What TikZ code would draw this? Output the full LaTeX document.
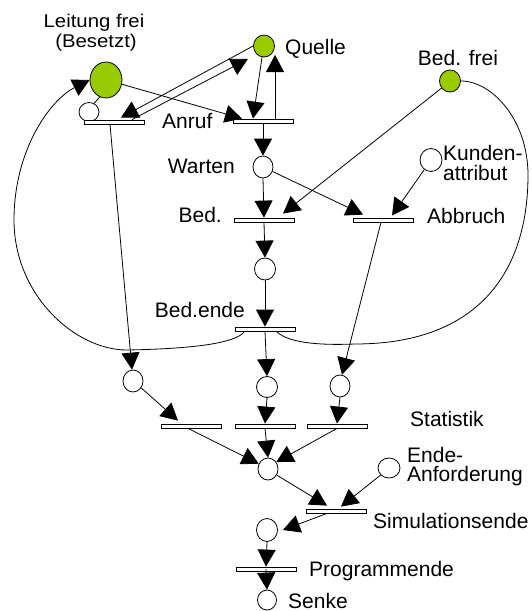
\documentclass[tikz,border=0pt]{standalone}
\usepackage{fontspec}
\setmainfont{Liberation Sans}
\usetikzlibrary{shapes.geometric,arrows.meta,calc}
\definecolor{pgreen}{RGB}{153,204,0}
\begin{document}
\begin{tikzpicture}[x=1pt,y=-1pt,
  place/.style={draw,ellipse,inner sep=0pt,line width=0.8pt,fill=white},
  gplace/.style={place,fill=pgreen},
  trans/.style={draw,rectangle,minimum width=60pt,minimum height=4pt,inner sep=0pt,line width=0.8pt,fill=white},
  arc/.style={line width=0.8pt,-{Triangle[length=17pt,width=18pt]}},
  plain/.style={line width=0.8pt},
  lbl/.style={inner sep=0pt,font=\fontsize{21}{24}\selectfont},
  slbl/.style={inner sep=0pt,font=\fontsize{18.5}{21}\selectfont}]
\useasboundingbox (0,0) rectangle (531,611);

% places
\node[gplace,minimum width=32pt,minimum height=36pt] (LF) at (106,80) {};
\node[place,minimum width=20pt,minimum height=19pt] (SM) at (89,112) {};
\node[gplace,minimum width=21pt,minimum height=22pt] (Q) at (264,46) {};
\node[gplace,minimum width=21pt,minimum height=22pt] (BF) at (450,81) {};
\node[place,minimum width=20pt,minimum height=22pt] (W) at (263,167) {};
\node[place,minimum width=22pt,minimum height=23pt] (K) at (431,160) {};
\node[place,minimum width=21pt,minimum height=22pt] (PB) at (265,269) {};
\node[place,minimum width=20pt,minimum height=22pt] (PL) at (133,381) {};
\node[place,minimum width=21pt,minimum height=21pt] (PM) at (267,387) {};
\node[place,minimum width=20pt,minimum height=22pt] (PR) at (340,386) {};
\node[place,minimum width=20pt,minimum height=22pt] (PC) at (268,469) {};
\node[place,minimum width=22pt,minimum height=20pt] (PE) at (389,468) {};
\node[place,minimum width=21pt,minimum height=23pt] (PS) at (267,530) {};
\node[place,minimum width=19pt,minimum height=20pt] (SK) at (267,600) {};

% transitions
\node[trans] (TA1) at (114,122) {};
\node[trans] (TA2) at (263,121) {};
\node[trans] (TB) at (264,220) {};
\node[trans] (TAB) at (383,220) {};
\node[trans] (TBE) at (265,329) {};
\node[trans] (TS1) at (191,426) {};
\node[trans] (TS2) at (265,426) {};
\node[trans] (TS3) at (337,426) {};
\node[trans] (TSI) at (336,511) {};
\node[trans] (TP) at (266,569) {};

% labels
\node[slbl,anchor=base] (l1) at (94,27) {\scalebox{1.1}[1]{Leitung frei}};
\node[slbl,anchor=base] (l2) at (96,47) {\scalebox{1.1}[1]{(Besetzt)}};
\node[lbl,anchor=base west] (l3) at (285,54) {Quelle};
\node[lbl,anchor=base] (l4) at (458,65) {Bed. frei};
\node[lbl,anchor=base west] (l5) at (162,128) {Anruf};
\node[lbl,anchor=base east] (l6) at (235,173) {Warten};
\node[lbl,anchor=base west] (l7) at (443,160) {Kunden-};
\node[lbl,anchor=base west] (l8) at (443,180) {attribut};
\node[lbl,anchor=base east] (l9) at (222,222) {Bed.};
\node[lbl,anchor=base west] (l10) at (427,223) {Abbruch};
\node[lbl,anchor=base east] (l11) at (245,317) {Bed.ende};
\node[lbl,anchor=base west] (l12) at (410,426) {Statistik};
\node[lbl,anchor=base west] (l13) at (407,462) {Ende-};
\node[lbl,anchor=base west] (l14) at (407,481) {Anforderung};
\node[lbl,anchor=base west] (l15) at (373,528) {Simulationsende};
\node[lbl,anchor=base west] (l16) at (309,576) {Programmende};
\node[lbl,anchor=base west] (l17) at (288,608) {Senke};

% connectors
\draw[plain] (LF.250) -- (SM.60);
\draw[arc] (LF.-15) -- ($(TA2.north)+(-21,0)$);
\draw[arc] (Q.-100) -- ($(TA2.north)+(-10,0)$);
\draw[arc] ($(TA2.north)+(12,0)$) -- ($(Q.center)+(11,9)$);
\draw[arc] (Q.west) -- ($(TA1.north)+(7,-2)$);
\draw[arc] ($(TA1.north)+(18,0)$) -- ($(Q.center)+(-16,13)$);
\draw[arc] (TA2.south) -- (W.north);
\draw[arc] (W.south) -- (TB.north);
\draw[arc] (BF.220) -- ($(TB.north)+(19,-4)$);
\draw[arc] (W.-25) -- ($(TAB.north)+(-20,-3)$);
\draw[arc] (K.235) -- ($(TAB.north)+(9,-2)$);
\draw[arc] (TB.south) -- (PB.north);
\draw[arc] (PB.south) -- (TBE.north);
\draw[arc] (TBE.south) -- (PM.north);
\draw[arc] ($(TA1.south)+(-4,0)$) -- (PL.95);
\draw[arc] ($(TAB.south)+(-2,0)$) -- (PR.80);
\draw[arc] (PL.-40) -- ($(TS1.north)+(-13,-3)$);
\draw[arc] (PM.south) -- (TS2.north);
\draw[arc] (PR.south) -- (TS3.north);
\draw[arc] ($(TS1.south)+(-3,0)$) -- (PC.150);
\draw[arc] (TS2.south) -- (PC.north);
\draw[arc] (TS3.south) -- (PC.40);
\draw[arc] (PC.-35) -- ($(TSI.north)+(-9,-3)$);
\draw[arc] (PE.220) -- ($(TSI.north)+(5,-2)$);
\draw[arc] ($(TSI.south)+(-9,0)$) -- ($(PS.east)+(5,0)$);
\draw[arc] (PS.south) -- (TP.north);
\draw[arc] (TP.center) -- (SK.north);

% loops
\draw[arc] ($(TBE.south west)+(10,0)$) .. controls (235,345) and (180,349) .. (127,350)
  .. controls (75,350) and (14,295) .. (14,220)
  .. controls (14,150) and (50,100) .. (LF.west);
\draw[plain] ($(TBE.south east)+(-19,0)$) .. controls (290,345) and (330,345) .. (355,344)
  .. controls (480,344) and (528,270) .. (528,175)
  .. controls (528,120) and (492,81) .. (BF.east);
\end{tikzpicture}
\end{document}
